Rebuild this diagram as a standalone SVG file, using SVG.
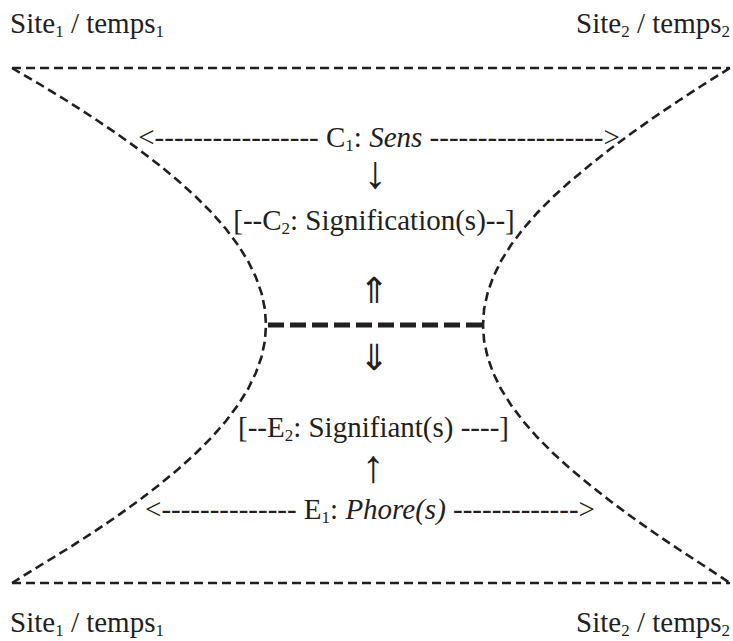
<svg xmlns="http://www.w3.org/2000/svg" width="733" height="641" viewBox="0 0 733 641">
<style>
.t{font-family:"Liberation Serif","DejaVu Serif",serif;font-size:29px;fill:#231f20}
.s{font-size:17px}
.i{font-style:italic}
.a{font-family:"Liberation Serif","DejaVu Serif",serif;font-size:46px;fill:#231f20}
.d{font-family:"Noto Sans CJK JP","DejaVu Sans",sans-serif;font-weight:300;font-size:36px;fill:#231f20}
.b{fill:none;stroke:#231f20;stroke-width:2.6;stroke-dasharray:9 5}
.k{fill:none;stroke:#231f20;stroke-width:5;stroke-dasharray:16 6}
</style>
<rect width="733" height="641" fill="#fff"/>
<g id="connectors">
<path id="top-line" class="b" d="M12,68 L730,68"/>
<path id="bottom-line" class="b" d="M12,583 L730,583"/>
<path id="left-curve" class="b" d="M12,68 L41,85 L67.2,101 L92.1,117 L115.9,133 L138.2,149 L159.1,165 L178.4,181 L196.1,197 L212,213 L226,229 L238,245 L248,261 L255.8,277 L261.5,293 L264.9,309 L266,325 L264.9,341 L261.5,357 L255.8,373 L248,389 L238,405 L226,421 L212,437 L196.1,453 L178.4,469 L159.1,485 L138.2,501 L115.9,517 L92.1,533 L67.2,549 L41,565 L12,583"/>
<path id="right-curve" class="b" d="M729.9,68 L702.8,85 L678.2,101 L654.5,117 L631.8,133 L610.2,149 L589.9,165 L570.6,181 L552.9,197 L537.1,213 L523.1,229 L511,245 L501,261 L493.2,277 L487.6,293 L484.1,309 L483,325 L484.1,341 L487.6,357 L493.2,373 L501,389 L511,405 L523.1,421 L537.1,437 L552.9,453 L570.6,469 L589.9,485 L610.2,501 L631.8,517 L654.5,533 L678.2,549 L702.8,565 L729.9,583"/>
<path id="middle-line" class="k" d="M268,325 L482,325"/>
</g>
<g id="site1-top"><text class="t" x="10" y="33">Site<tspan class="s" dy="4">1</tspan><tspan dy="-4"> / temps</tspan><tspan class="s" dy="4">1</tspan></text></g>
<g id="site2-top"><text class="t" x="730" y="33" text-anchor="end">Site<tspan class="s" dy="4">2</tspan><tspan dy="-4"> / temps</tspan><tspan class="s" dy="4">2</tspan></text></g>
<g id="site1-bottom"><text class="t" x="10" y="632">Site<tspan class="s" dy="4">1</tspan><tspan dy="-4"> / temps</tspan><tspan class="s" dy="4">1</tspan></text></g>
<g id="site2-bottom"><text class="t" x="730" y="632" text-anchor="end">Site<tspan class="s" dy="4">2</tspan><tspan dy="-4"> / temps</tspan><tspan class="s" dy="4">2</tspan></text></g>
<g id="c1"><text class="t" x="379" y="147" text-anchor="middle">&lt;----------------- C<tspan class="s" dy="4">1</tspan><tspan dy="-4">: </tspan><tspan class="i">Sens</tspan> ------------------&gt;</text></g>
<g id="arrow-c1-c2"><text class="a" x="375" y="188" text-anchor="middle">↓</text></g>
<g id="c2"><text class="t" x="374" y="230" text-anchor="middle">[--C<tspan class="s" dy="4">2</tspan><tspan dy="-4">: Signification(s)--]</tspan></text></g>
<g id="arrow-up-double"><text class="d" x="374" y="303" text-anchor="middle">⇑</text></g>
<g id="arrow-down-double"><text class="d" x="374" y="370" text-anchor="middle">⇓</text></g>
<g id="e2"><text class="t" x="373.5" y="437" text-anchor="middle">[--E<tspan class="s" dy="4">2</tspan><tspan dy="-4">: Signifiant(s) ----]</tspan></text></g>
<g id="arrow-e1-e2"><text class="a" x="373" y="482" text-anchor="middle">↑</text></g>
<g id="e1"><text class="t" x="370" y="519" text-anchor="middle">&lt;-------------- E<tspan class="s" dy="4">1</tspan><tspan dy="-4">: </tspan><tspan class="i">Phore(s)</tspan> -------------&gt;</text></g>
</svg>
